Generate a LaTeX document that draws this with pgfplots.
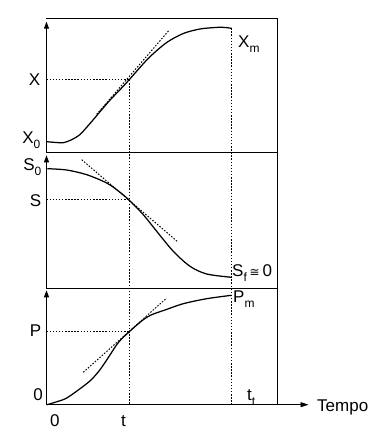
\documentclass[border=0pt]{standalone}
\usepackage{fontspec}
\setmainfont{Liberation Sans}
\newfontfamily\dejavu{DejaVu Sans}
\usepackage{pgfplots}
\pgfplotsset{compat=1.18}
\usetikzlibrary{arrows.meta}
\newcommand\sub[1]{\raisebox{-5pt}{\fontsize{12}{12}\selectfont #1}}
\begin{document}
\begin{tikzpicture}
\begin{axis}[
  x=1pt, y=1pt,
  xmin=47, xmax=278, ymin=29, ymax=416,
  hide axis, clip=false,
  every axis plot/.append style={black},
  nodes={font=\fontsize{17}{20}\selectfont, inner sep=0pt},
]
% invisible page frame (385 x 434)
\path (axis cs:0,0) rectangle (axis cs:385,434);

% frame and axes
\draw[line width=0.9pt] (axis cs:46.5,416) -- (axis cs:277.5,416) -- (axis cs:277.5,29.3);
\draw[line width=0.9pt] (axis cs:46.5,281.5) -- (axis cs:277.5,281.5);
\draw[line width=0.9pt] (axis cs:46.5,146) -- (axis cs:277.5,146);
\draw[line width=0.9pt,-{Triangle[length=7pt,width=5pt]}] (axis cs:46.5,281.5) -- (axis cs:46.5,412.3);
\draw[line width=0.9pt,-{Triangle[length=7pt,width=5pt]}] (axis cs:46.5,146) -- (axis cs:46.5,278.7);
\draw[line width=0.9pt,-{Triangle[length=7pt,width=5pt]}] (axis cs:46.5,29.3) -- (axis cs:46.5,143.7);
\draw[line width=0.9pt,-{Triangle[length=8pt,width=5pt]}] (axis cs:46.5,29.3) -- (axis cs:308.5,29.3);

% dotted guide lines
\addplot[line width=1pt, dash pattern=on 1.5pt off 1.6pt] coordinates {(129,354) (129,29.3)};
\addplot[line width=1pt, dash pattern=on 1.5pt off 1.6pt] coordinates {(231.5,405.7) (231.5,29.3)};
\addplot[line width=1pt, dash pattern=on 1.5pt off 1.6pt] coordinates {(46.5,354) (129,354)};
\addplot[line width=1pt, dash pattern=on 1.5pt off 1.6pt] coordinates {(46.5,234) (129,234)};
\addplot[line width=1pt, dash pattern=on 1.5pt off 1.6pt] coordinates {(46.5,102) (129,102)};

% tangents
\addplot[line width=1pt, dash pattern=on 1.5pt off 1.6pt] coordinates {(96.7,319.7) (169.3,404)};
\addplot[line width=1pt, dash pattern=on 1.5pt off 1.6pt] coordinates {(81.7,274.3) (178.3,191.7)};
\addplot[line width=1pt, dash pattern=on 1.5pt off 1.6pt] coordinates {(83.3,61.7) (166.7,136)};

% X (biomass)
\addplot[line width=1.25pt, smooth, tension=0.5] coordinates {
(46.7,292.3) (55,291.6) (63.3,291.3) (71,294) (80,299.5) (90,310.5) (100,322.3)
(110,333.9) (120,344.3) (129,354) (138,364.3) (150,377.3) (166.7,391.5) (183.3,400.5)
(200,405) (216.7,406.6) (224,406.6) (231.5,405.7)};

% S (substrate)
\addplot[line width=1.25pt, smooth, tension=0.5] coordinates {
(47.3,265.3) (66.7,264) (86.7,259.3) (106.7,251) (119,242.5) (129,234) (143.3,219.3)
(156.7,202.7) (173.3,182.7) (190,167.7) (206.7,160) (231.5,156.7)};

% P (product)
\addplot[line width=1.25pt, smooth, tension=0.5] coordinates {
(47,29.3) (56,32) (66.7,36) (83.3,47.7) (92,55) (100,64.3) (108,76) (116.7,89.3)
(122,95.5) (129,102) (136,108.3) (143.3,114.3) (150,118.5) (157,121.3) (165,124)
(183.3,130.3) (206.7,135.3) (231.5,138.7)};

% labels
\node[anchor=base east] at (axis cs:40.5,348) {X};
\node[anchor=base east] at (axis cs:40.5,290) {X\sub{0}};
\node[anchor=base east] at (axis cs:41.5,263) {S\sub{0}};
\node[anchor=base east] at (axis cs:41.5,227) {S};
\node[anchor=base east] at (axis cs:41.5,97) {P};
\node[anchor=base east] at (axis cs:43,33) {0};
\node[anchor=base west] at (axis cs:50,7) {0};
\node[anchor=base west] at (axis cs:121,7) {t};
\node[anchor=base west] at (axis cs:247,34) {t\sub{t}};
\node[anchor=base west] at (axis cs:317,23) {Tempo};
\node[anchor=base west] at (axis cs:238,386) {X\sub{m}};
\node[anchor=base west] at (axis cs:232,157) {S\sub{f}\,{\dejavu\fontsize{12}{12}\selectfont ≅}\,0};
\node[anchor=base west] at (axis cs:233,131) {P\sub{m}};
\end{axis}
\end{tikzpicture}
\end{document}
